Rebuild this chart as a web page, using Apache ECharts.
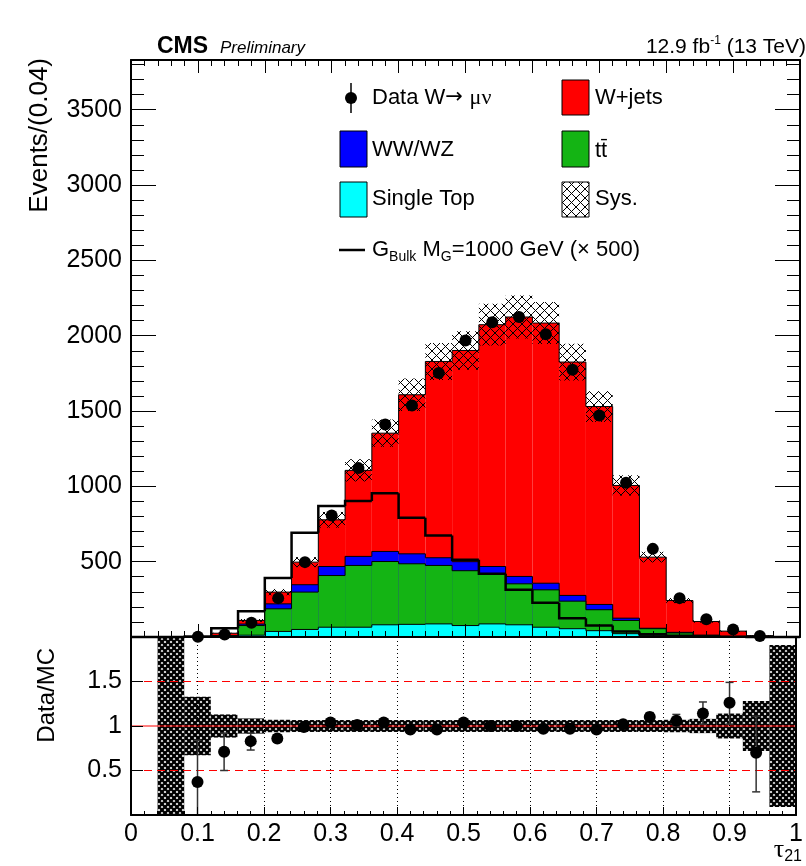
<!DOCTYPE html>
<html>
<head>
<meta charset="utf-8">
<title>tau21 W+jets control region</title>
<script src="https://cdn.jsdelivr.net/npm/echarts@6.0.0/dist/echarts.min.js"></script>
<style>
  html, body { margin: 0; padding: 0; background: #fff; }
  #chart { width: 806px; height: 866px; }
</style>
</head>
<body>
<div id="chart"></div>
<script>
// bins of tau21, width 0.04
const binLow = [0, 0.04, 0.08, 0.12, 0.16, 0.2, 0.24, 0.28, 0.32, 0.36, 0.4, 0.44, 0.48,
  0.52, 0.56, 0.6, 0.64, 0.68, 0.72, 0.76, 0.8, 0.84, 0.88, 0.92, 0.96]
const binWidth = 0.04

// backgrounds (events per bin)
const singleTop = [0, 0, 1, 3, 12, 37, 50, 65, 65, 81, 84, 87, 76, 87, 81, 65, 55, 42, 22, 9, 5, 2, 1, 0, 0]
const ttbar = [0, 0, 2, 5, 64, 150, 248, 343, 410, 420, 402, 388, 364, 333, 272, 248, 183, 139, 88, 46, 22, 9, 2, 1, 0]
const wwwz = [0, 0, 1, 2, 10, 33, 49, 60, 60, 67, 66, 51, 60, 48, 49, 44, 38, 35, 15, 3, 4, 1, 1, 0, 0]
const wjets = [0, 0, 2, 15, 24, 78, 150, 310, 571, 785, 1056, 1303, 1402, 1605, 1722, 1727, 1549, 1314, 881, 472, 211, 91, 35, 8, 1]

// signal G_Bulk (x 500)
const signal = [0, 0, 2, 58, 171, 392, 692, 869, 902, 955, 791, 674, 512, 420, 313, 227, 125, 76, 37, 18, 8, 3, 1, 0, 0]

// data
const dataCounts = [null, null, 2, 17, 94, 258, 497, 807, 1121, 1411, 1537, 1752, 1968, 2090, 2124, 2009, 1774, 1471, 1024, 585, 258, 118, 50, 7, null]

// relative systematic uncertainty
const sysRel = [0, 1.0, 0.33, 0.13, 0.085, 0.07, 0.067, 0.067, 0.067, 0.067, 0.067, 0.067, 0.067,
  0.067, 0.067, 0.067, 0.067, 0.067, 0.067, 0.067, 0.07, 0.08, 0.14, 0.28, 0.91]

// data / MC
const ratio = [null, null, 0.37, 0.71, 0.83, 0.86, 0.99, 1.04, 1.01, 1.04, 0.96, 0.96, 1.04,
  1.0, 1.0, 0.97, 0.97, 0.96, 1.02, 1.10, 1.06, 1.14, 1.26, 0.70, null]
const ratioErrLo = [0, 0, 0.37, 0.21, 0.10, 0.04, 0.03, 0.03, 0.02, 0.02, 0.02, 0.02, 0.02,
  0.02, 0.02, 0.02, 0.02, 0.03, 0.03, 0.05, 0.06, 0.12, 0.24, 0.44, 0]
const ratioErrHi = [0, 0, 0.47, 0.21, 0.09, 0.04, 0.03, 0.03, 0.02, 0.02, 0.02, 0.02, 0.02,
  0.02, 0.02, 0.02, 0.02, 0.03, 0.03, 0.05, 0.07, 0.13, 0.23, 0.41, 0]
const refLines = [0.5, 1, 1.5]

const FONT = '"Liberation Sans", Arial, Helvetica, sans-serif'

// hatch patterns
function makePattern(size, draw) {
  const c = document.createElement('canvas')
  c.width = c.height = size
  draw(c.getContext('2d'), size)
  return c
}
const crossHatch = makePattern(9, (ctx, s) => {
  ctx.strokeStyle = '#000'
  ctx.lineWidth = 1
  ctx.beginPath()
  ctx.moveTo(0, 0); ctx.lineTo(s, s)
  ctx.moveTo(s, 0); ctx.lineTo(0, s)
  ctx.stroke()
})
const denseHatch = makePattern(6, (ctx, s) => {
  ctx.fillStyle = '#fff'
  ctx.fillRect(0, 0, s, s)
  ctx.strokeStyle = '#000'
  ctx.lineWidth = 2.3
  ctx.beginPath()
  ctx.moveTo(0, 0); ctx.lineTo(s, s)
  ctx.moveTo(s, 0); ctx.lineTo(0, s)
  ctx.stroke()
})

// stacked tops, drawn like a ROOT THStack (biggest first)
const cyanTop = singleTop.slice()
const greenTop = cyanTop.map((v, i) => v + ttbar[i])
const blueTop = greenTop.map((v, i) => v + wwwz[i])
const stackTotal = blueTop.map((v, i) => v + wjets[i])

function histFill(name, tops, color) {
  return {
    type: 'custom', name, xAxisIndex: 0, yAxisIndex: 0, z: 2,
    data: tops.map((t, i) => [binLow[i], binLow[i] + binWidth, t, i ? tops[i - 1] : 0]),
    renderItem: (params, api) => {
      const lo = api.coord([api.value(0), 0])
      const hi = api.coord([api.value(1), api.value(2)])
      const prev = api.coord([api.value(0), api.value(3)])
      return {
        type: 'group',
        children: [
          { type: 'rect', shape: { x: lo[0], y: hi[1], width: hi[0] - lo[0], height: lo[1] - hi[1] }, style: { fill: color } },
          { type: 'polyline', shape: { points: [prev, [lo[0], hi[1]], hi] }, style: { stroke: '#000', lineWidth: 1, fill: null } }
        ]
      }
    }
  }
}

const sysBand = []
stackTotal.forEach((t, i) => {
  if (t > 0) sysBand.push([binLow[i], binLow[i] + binWidth, t * (1 - sysRel[i]), t * (1 + sysRel[i])])
})
const ratioBand = []
sysRel.forEach((r, i) => {
  if (r > 0) ratioBand.push([binLow[i], binLow[i] + binWidth, 1 - r, 1 + r])
})

function bandSeries(data, fill, xi, yi) {
  return {
    type: 'custom', xAxisIndex: xi, yAxisIndex: yi, z: 3, clip: true, data,
    renderItem: (params, api) => {
      const a = api.coord([api.value(0), api.value(2)])
      const b = api.coord([api.value(1), api.value(3)])
      return { type: 'rect', shape: { x: a[0], y: b[1], width: b[0] - a[0], height: a[1] - b[1] }, style: { fill } }
    }
  }
}

const dataPoints = []
const ratioPoints = []
const ratioErr = []
binLow.forEach((x, i) => {
  const c = x + binWidth / 2
  if (dataCounts[i] != null) dataPoints.push([c, dataCounts[i]])
  if (ratio[i] != null) {
    ratioPoints.push([c, ratio[i]])
    ratioErr.push([c, ratio[i] - ratioErrLo[i], ratio[i] + ratioErrHi[i]])
  }
})

const tickStyle = { color: '#000', width: 1 }
const lineStyle2 = { color: '#000', width: 2 }
const labelStyle = { fontFamily: FONT, fontSize: 25, color: '#000' }
const dotStyle = { color: '#000', opacity: 1 }

const chart = echarts.init(document.getElementById('chart'), null, { renderer: 'canvas' })

chart.setOption({
  animation: false,
  backgroundColor: '#fff',
  grid: [
    { left: 131, top: 60, width: 669, height: 577 },
    { left: 131, top: 637, width: 669, height: 178 }
  ],
  xAxis: [
    { type: 'value', gridIndex: 0, position: 'bottom', min: 0, max: 1, interval: 0.1, z: 5,
      axisLine: { onZero: false, lineStyle: lineStyle2 }, axisTick: { inside: true, length: 13, lineStyle: tickStyle },
      minorTick: { show: true, splitNumber: 5, length: 6, lineStyle: tickStyle },
      axisLabel: { show: false }, splitLine: { show: false } },
    { type: 'value', gridIndex: 0, position: 'top', min: 0, max: 1, interval: 0.1, z: 5,
      axisLine: { onZero: false, lineStyle: lineStyle2 }, axisTick: { inside: true, length: 13, lineStyle: tickStyle },
      minorTick: { show: true, splitNumber: 5, length: 6, lineStyle: tickStyle },
      axisLabel: { show: false }, splitLine: { show: false } },
    { type: 'value', gridIndex: 1, position: 'bottom', min: 0, max: 1, interval: 0.1, z: 5,
      axisLine: { onZero: false, lineStyle: lineStyle2 }, axisTick: { inside: true, length: 8, lineStyle: tickStyle },
      minorTick: { show: true, splitNumber: 5, length: 4, lineStyle: tickStyle },
      axisLabel: Object.assign({ margin: 7 }, labelStyle),
      splitLine: { show: true, lineStyle: { color: '#000', type: [1, 3], width: 1 } } },
    { type: 'value', gridIndex: 1, position: 'top', min: 0, max: 1, z: 5,
      axisLine: { onZero: false, lineStyle: lineStyle2 }, axisTick: { show: false },
      axisLabel: { show: false }, splitLine: { show: false } }
  ],
  yAxis: [
    { type: 'value', gridIndex: 0, position: 'left', min: 0, max: 3830, interval: 500, z: 5,
      axisLine: { show: true, onZero: false, lineStyle: lineStyle2 }, axisTick: { show: true, inside: true, length: 25, lineStyle: tickStyle },
      axisLabel: Object.assign({ margin: 9, formatter: v => (v > 0 && v % 500 === 0 ? String(v) : '') }, labelStyle),
      splitLine: { show: false } },
    { type: 'value', gridIndex: 0, position: 'left', min: 0, max: 3830, interval: 100, z: 5,
      axisLine: { show: false, onZero: false }, axisTick: { show: true, inside: true, length: 13, lineStyle: tickStyle },
      axisLabel: { show: false }, splitLine: { show: false } },
    { type: 'value', gridIndex: 0, position: 'right', min: 0, max: 3830, interval: 500, z: 5,
      axisLine: { show: true, onZero: false, lineStyle: lineStyle2 }, axisTick: { show: true, inside: true, length: 25, lineStyle: tickStyle },
      axisLabel: { show: false }, splitLine: { show: false } },
    { type: 'value', gridIndex: 0, position: 'right', min: 0, max: 3830, interval: 100, z: 5,
      axisLine: { show: false, onZero: false }, axisTick: { show: true, inside: true, length: 13, lineStyle: tickStyle },
      axisLabel: { show: false }, splitLine: { show: false } },
    { type: 'value', gridIndex: 1, position: 'left', min: 0, max: 2, interval: 0.5, z: 5,
      axisLine: { show: true, onZero: false, lineStyle: lineStyle2 }, axisTick: { show: true, inside: true, length: 12, lineStyle: tickStyle },
      axisLabel: Object.assign({ margin: 9, formatter: v => (v > 0 && v < 2 ? String(v) : '') }, labelStyle),
      splitLine: { show: false } },
    { type: 'value', gridIndex: 1, position: 'right', min: 0, max: 2, z: 5,
      axisLine: { show: true, onZero: false, lineStyle: lineStyle2 }, axisTick: { show: false },
      axisLabel: { show: false }, splitLine: { show: false } }
  ],
  series: [
    histFill('W+jets', stackTotal, '#ff0000'),
    histFill('WW/WZ', blueTop, '#0000ff'),
    histFill('tt', greenTop, '#14b414'),
    histFill('Single Top', cyanTop, '#00ffff'),
    bandSeries(sysBand, { image: crossHatch, repeat: 'repeat' }, 0, 0),
    {
      type: 'custom', name: 'G_Bulk', xAxisIndex: 0, yAxisIndex: 0, z: 4,
      data: signal.map((v, i) => [binLow[i], binLow[i] + binWidth, v, i ? signal[i - 1] : 0]),
      renderItem: (params, api) => {
        const lo = api.coord([api.value(0), api.value(2)])
        const hi = api.coord([api.value(1), api.value(2)])
        const prev = api.coord([api.value(0), api.value(3)])
        return { type: 'polyline', shape: { points: [prev, lo, hi] }, style: { stroke: '#000', lineWidth: 2.5, fill: null } }
      }
    },
    { type: 'scatter', name: 'Data', xAxisIndex: 0, yAxisIndex: 0, z: 6, symbol: 'circle', symbolSize: 12,
      itemStyle: dotStyle, data: dataPoints },

    // ratio panel
    bandSeries(ratioBand, { image: denseHatch, repeat: 'repeat' }, 2, 4),
    {
      type: 'custom', xAxisIndex: 2, yAxisIndex: 4, z: 4, data: refLines,
      renderItem: (params, api) => {
        const v = api.value(0)
        const a = api.coord([0, v])
        const b = api.coord([1, v])
        return { type: 'line', shape: { x1: a[0], y1: a[1], x2: b[0], y2: b[1] },
          style: { stroke: '#ff0000', lineWidth: 1, lineDash: v === 1 ? null : [8, 5] } }
      }
    },
    {
      type: 'custom', xAxisIndex: 2, yAxisIndex: 4, z: 5, clip: true, data: ratioErr,
      renderItem: (params, api) => {
        const lo = api.coord([api.value(0), api.value(1)])
        const hi = api.coord([api.value(0), api.value(2)])
        return {
          type: 'group',
          children: [
            { type: 'line', shape: { x1: lo[0], y1: lo[1], x2: hi[0], y2: hi[1] }, style: { stroke: '#333', lineWidth: 1.5 } },
            { type: 'line', shape: { x1: lo[0] - 4, y1: lo[1], x2: lo[0] + 4, y2: lo[1] }, style: { stroke: '#333', lineWidth: 1.5 } },
            { type: 'line', shape: { x1: hi[0] - 4, y1: hi[1], x2: hi[0] + 4, y2: hi[1] }, style: { stroke: '#333', lineWidth: 1.5 } }
          ]
        }
      }
    },
    { type: 'scatter', xAxisIndex: 2, yAxisIndex: 4, z: 6, symbol: 'circle', symbolSize: 12,
      itemStyle: dotStyle, data: ratioPoints }
  ],
  graphic: [
    // header
    { type: 'text', x: 157, y: 47, style: { text: 'CMS', fontFamily: FONT, fontWeight: 'bold', fontSize: 23, fill: '#000', align: 'left', verticalAlign: 'middle' } },
    { type: 'text', x: 220, y: 48, style: { text: 'Preliminary', fontFamily: FONT, fontStyle: 'italic', fontSize: 17, fill: '#000', align: 'left', verticalAlign: 'middle' } },
    { type: 'text', x: 806, y: 47, style: {
      text: '{a|12.9 fb}{s|-1}{a| (13 TeV)}', align: 'right', verticalAlign: 'middle',
      rich: { a: { fontFamily: FONT, fontSize: 21, lineHeight: 24, fill: '#000' }, s: { fontFamily: FONT, fontSize: 12, lineHeight: 12, verticalAlign: 'top', fill: '#000' } } } },

    // axis titles
    { type: 'text', x: 40, y: 58, rotation: Math.PI / 2, style: { text: 'Events/(0.04)', fontFamily: FONT, fontSize: 26, fill: '#000', align: 'right', verticalAlign: 'middle' } },
    { type: 'text', x: 47, y: 648, rotation: Math.PI / 2, style: { text: 'Data/MC', fontFamily: FONT, fontSize: 24, fill: '#000', align: 'right', verticalAlign: 'middle' } },
    { type: 'text', x: 802, y: 850, style: {
      text: '{t|τ}{s|21}', align: 'right', verticalAlign: 'middle',
      rich: { t: { fontFamily: '"Liberation Serif", serif', fontSize: 26, lineHeight: 30, fill: '#000' }, s: { fontFamily: FONT, fontSize: 16, lineHeight: 16, verticalAlign: 'bottom', fill: '#000' } } } },

    // legend
    { type: 'line', shape: { x1: 351, y1: 83, x2: 351, y2: 113 }, style: { stroke: '#000', lineWidth: 1.5 } },
    { type: 'circle', shape: { cx: 351, cy: 98, r: 6 }, style: { fill: '#000' } },
    { type: 'text', x: 372, y: 98, style: {
      text: '{a|Data W}{r|→ }{g|μν}', align: 'left', verticalAlign: 'middle',
      rich: {
        a: { fontFamily: FONT, fontSize: 22, fill: '#000' },
        r: { fontFamily: '"DejaVu Sans", sans-serif', fontSize: 21, fill: '#000' },
        g: { fontFamily: '"Liberation Serif", serif', fontSize: 22, fill: '#000' }
      } } },
    { type: 'rect', shape: { x: 562, y: 80, width: 27, height: 35 }, style: { fill: '#ff0000', stroke: '#000', lineWidth: 1 } },
    { type: 'text', x: 595, y: 98, style: { text: 'W+jets', fontFamily: FONT, fontSize: 22, fill: '#000', align: 'left', verticalAlign: 'middle' } },
    { type: 'rect', shape: { x: 340, y: 131, width: 27, height: 36 }, style: { fill: '#0000ff', stroke: '#000', lineWidth: 1 } },
    { type: 'text', x: 372, y: 150, style: { text: 'WW/WZ', fontFamily: FONT, fontSize: 22, fill: '#000', align: 'left', verticalAlign: 'middle' } },
    { type: 'rect', shape: { x: 562, y: 131, width: 27, height: 36 }, style: { fill: '#14b414', stroke: '#000', lineWidth: 1 } },
    { type: 'text', x: 595, y: 151, style: { text: 'tt\u0304', fontFamily: FONT, fontSize: 22, fill: '#000', align: 'left', verticalAlign: 'middle' } },
    { type: 'rect', shape: { x: 340, y: 182, width: 27, height: 35 }, style: { fill: '#00ffff', stroke: '#000', lineWidth: 1 } },
    { type: 'text', x: 372, y: 199, style: { text: 'Single Top', fontFamily: FONT, fontSize: 22, fill: '#000', align: 'left', verticalAlign: 'middle' } },
    { type: 'rect', shape: { x: 562, y: 182, width: 27, height: 35 }, style: { fill: { image: crossHatch, repeat: 'repeat' }, stroke: '#000', lineWidth: 1 } },
    { type: 'text', x: 595, y: 199, style: { text: 'Sys.', fontFamily: FONT, fontSize: 22, fill: '#000', align: 'left', verticalAlign: 'middle' } },
    { type: 'line', shape: { x1: 339, y1: 250, x2: 365, y2: 250 }, style: { stroke: '#000', lineWidth: 2.5 } },
    { type: 'text', x: 372, y: 250, style: {
      text: '{a|G}{s|Bulk}{a| M}{s|G}{a|=1000 GeV (× 500)}', align: 'left', verticalAlign: 'middle',
      rich: { a: { fontFamily: FONT, fontSize: 22, lineHeight: 28, fill: '#000' }, s: { fontFamily: FONT, fontSize: 14, lineHeight: 14, verticalAlign: 'bottom', fill: '#000' } } } }
  ]
})
</script>
</body>
</html>
